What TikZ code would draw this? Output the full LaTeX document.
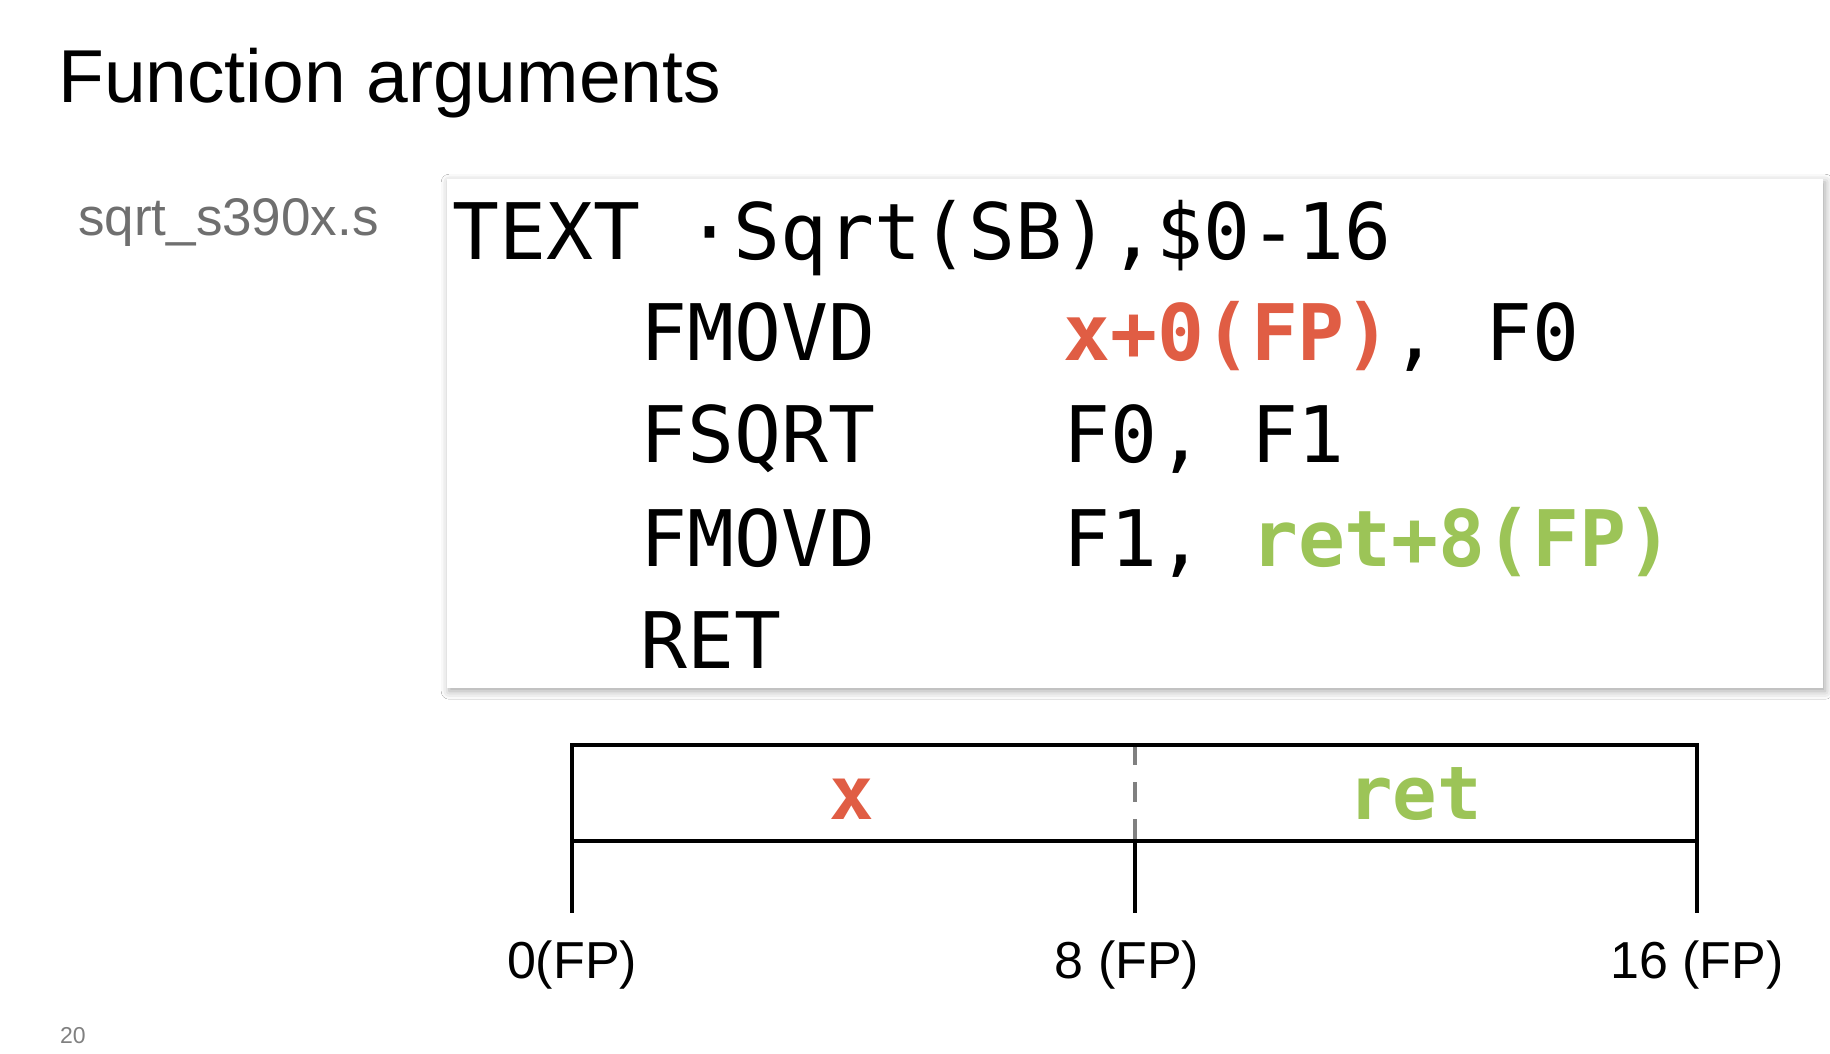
\documentclass[tikz,border=0pt]{standalone}
\usepackage{fontspec}
\setmainfont{Liberation Sans}
\newfontfamily\codefont{DejaVu Sans Mono}
\usetikzlibrary{shadows.blur}
\definecolor{argred}{HTML}{E05D44}
\definecolor{retgreen}{HTML}{9CC457}
\definecolor{filegray}{HTML}{6F6F6F}
\tikzset{
  code/.style={anchor=base west,inner sep=0pt,font=\codefont\fontsize{78}{90}\selectfont},
  slotline/.style={line width=4.5pt,line cap=rect},
  tickline/.style={line width=4pt},
  offset/.style={anchor=base,inner sep=0pt,font=\fontsize{52}{60}\selectfont},
  slotname/.style={anchor=base,inner sep=0pt,font=\codefont\bfseries\fontsize{74}{80}\selectfont}
}
\begin{document}
\begin{tikzpicture}[x=1pt,y=-1pt]
    \useasboundingbox[fill=white](0,0) rectangle (1830,1054);
    \node[anchor=base west,inner sep=0pt,font=\fontsize{75}{80}\selectfont] (title) at (58,103) {Function arguments};%見出し
    \node[anchor=base west,inner sep=0pt,text=filegray,font=\fontsize{53}{60}\selectfont] (file) at (78,235) {sqrt\_s390x.s};
    %コード
    \node[anchor=north west,inner sep=0pt,fill=white,minimum width=1376pt,minimum height=509pt,
      blur shadow={shadow xshift=2pt,shadow yshift=-3pt,shadow blur radius=8pt,shadow opacity=35}] (listing) at (447,179) {};
    \node[code] (head) at (452,259) {TEXT ·Sqrt(SB),\$0-16};
    \node[code] (op1) at (640,360) {FMOVD};
    \node[code] (arg1) at (1063,360) {{\bfseries\color{argred}x+0(FP)}, F0};
    \node[code] (op2) at (640,462) {FSQRT};
    \node[code] (arg2) at (1063,462) {F0, F1};
    \node[code] (op3) at (640,566) {FMOVD};
    \node[code] (arg3) at (1063,566) {F1, {\bfseries\color{retgreen}ret+8(FP)}};
    \node[code] (op4) at (640,668) {RET};
    %フレーム
    \coordinate (s0) at (572,745); \coordinate (s8) at (1135,745); \coordinate (s16) at (1697,745);
    \coordinate (b0) at (572,841); \coordinate (b8) at (1135,841); \coordinate (b16) at (1697,841);
    \coordinate (t0) at (572,913); \coordinate (t8) at (1135,913); \coordinate (t16) at (1697,913);
    \draw[tickline](s0)--(t0);
    \draw[tickline](s16)--(t16);
    \draw[tickline](b8)--(t8);
    \draw[tickline,draw=gray,dash pattern=on 20pt off 17pt](s8)--(b8);
    \draw[slotline](s0)--(s16);
    \draw[slotline](b0)--(b16);
    \node[slotname,text=argred] (xslot) at (852,819) {x};
    \node[slotname,text=retgreen] (retslot) at (1415,819) {ret};
    \node[offset] (off0) at (572,978) {0(FP)};
    \node[offset] (off8) at (1127,978) {8 (FP)};
    \node[offset] (off16) at (1697,978) {16 (FP)};
    \node[anchor=base west,inner sep=0pt,text=gray,font=\fontsize{23}{26}\selectfont] (page) at (60,1043) {20};
\end{tikzpicture}
\end{document}
